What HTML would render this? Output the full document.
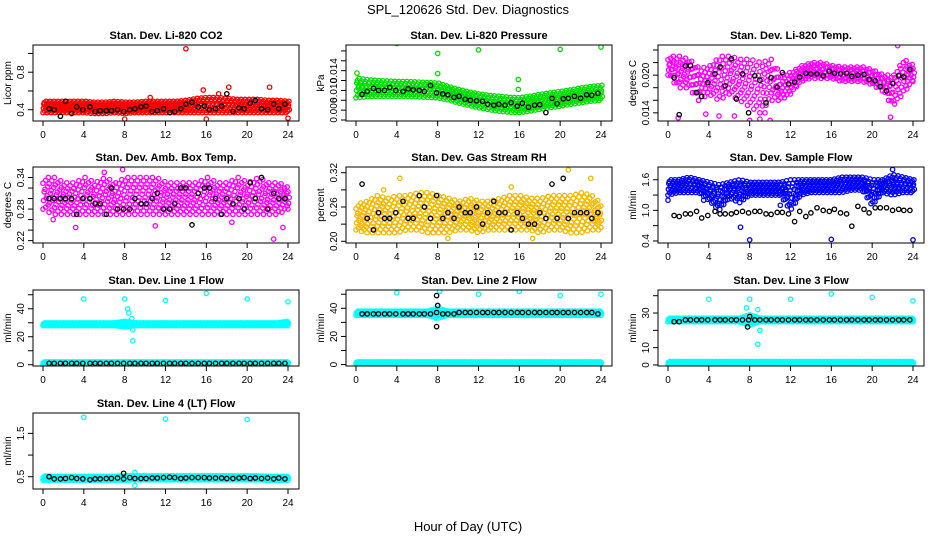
<!DOCTYPE html>
<html><head><meta charset="utf-8"><style>
html,body{margin:0;padding:0;background:#fff;}
svg{display:block;font-family:"Liberation Sans",Arial,sans-serif;}
</style></head><body>
<svg id="chart" width="936" height="540" viewBox="0 0 936 540">
<text x="468" y="14" text-anchor="middle" font-size="13">SPL_120626  Std. Dev. Diagnostics</text>
<text x="468" y="531" text-anchor="middle" font-size="13">Hour of Day (UTC)</text>
</svg>
<script>
// shared black-series hours
const blackHours=[0.6,1.1,1.7,2.2,2.8,3.3,3.9,4.6,5.1,5.6,6.2,6.7,7.3,7.9,8.5,9.0,9.6,10.1,10.7,11.2,11.8,12.4,12.9,13.5,14.0,14.6,15.2,15.8,16.3,16.9,17.5,18.0,18.6,19.2,19.7,20.3,20.8,21.4,22.0,22.6,23.1,23.7];
const xTicks=[0,4,8,12,16,20,24];

// P1 CO2
const co2Lo=[0.37,0.37,0.37,0.37,0.37,0.36,0.36,0.37,0.36,0.37,0.37,0.37,0.37,0.37,0.37,0.37,0.37,0.37,0.37,0.37,0.37,0.37,0.37,0.37,0.37];
const co2Hi=[0.49,0.49,0.49,0.49,0.49,0.48,0.48,0.49,0.48,0.48,0.49,0.49,0.49,0.49,0.50,0.52,0.53,0.53,0.52,0.51,0.51,0.51,0.50,0.50,0.49];
const co2Black=[0.41,0.40,0.33,0.49,0.36,0.43,0.40,0.43,0.38,0.39,0.39,0.39,0.40,0.38,0.40,0.41,0.43,0.44,0.38,0.39,0.41,0.37,0.38,0.41,0.46,0.48,0.43,0.44,0.40,0.41,0.44,0.57,0.38,0.42,0.41,0.47,0.50,0.41,0.40,0.46,0.41,0.46];
const co2OutX=[14,15.7,18.2,22.2,8,16,24,17.2,10.5];
const co2OutY=[1.05,0.61,0.64,0.64,0.30,0.30,0.31,0.57,0.53];
// P2 Pressure
const prLo=[0.0085,0.0087,0.0088,0.0088,0.0088,0.0088,0.0087,0.0086,0.0085,0.0081,0.0075,0.0070,0.0065,0.0061,0.0058,0.0056,0.0055,0.0058,0.0062,0.0065,0.0068,0.0072,0.0075,0.0078,0.0080];
const prHi=[0.0125,0.0122,0.0120,0.0119,0.0118,0.0118,0.0117,0.0116,0.0115,0.0108,0.0102,0.0097,0.0093,0.0090,0.0088,0.0086,0.0085,0.0088,0.0092,0.0095,0.0098,0.0101,0.0105,0.0108,0.0110];
const prBlack=[0.0092,0.0098,0.0104,0.0100,0.0100,0.0106,0.0100,0.0098,0.0103,0.0101,0.0100,0.0098,0.0110,0.0095,0.0093,0.0091,0.0086,0.0088,0.0082,0.0080,0.0079,0.0078,0.0072,0.0070,0.0072,0.0070,0.0075,0.0068,0.0074,0.0066,0.0070,0.0071,0.0055,0.0084,0.0073,0.0083,0.0084,0.0088,0.0084,0.0091,0.0090,0.0094];
const prOutX=[0.1,4,8,12,20,24,15.9,15.9,8];
const prOutY=[0.0135,0.0195,0.0175,0.0182,0.0183,0.0188,0.0122,0.0102,0.0134];
// P3 Li-820 Temp
const tLo=[0.020,0.018,0.018,0.016,0.017,0.016,0.017,0.016,0.015,0.014,0.016,0.016,0.017,0.019,0.0195,0.0195,0.0195,0.019,0.019,0.019,0.0185,0.0175,0.015,0.017,0.019];
const tHi=[0.023,0.023,0.0225,0.021,0.0215,0.023,0.023,0.0225,0.0225,0.022,0.0225,0.020,0.0205,0.0215,0.022,0.022,0.0215,0.0213,0.0213,0.0213,0.0208,0.020,0.020,0.0225,0.0215];
const tBlack=[0.0196,0.0137,0.0215,0.0215,0.0172,0.0166,0.0188,0.0202,0.0213,0.0183,0.0226,0.0162,0.0202,0.0140,0.0199,0.0192,0.0156,0.0196,0.0181,0.0204,0.0186,0.0189,0.0197,0.0203,0.0202,0.0202,0.0199,0.0206,0.0203,0.0202,0.0203,0.0198,0.0200,0.0201,0.0193,0.0191,0.0182,0.0175,0.0187,0.0199,0.0197,0.0209];
const tOutX=[6.5,8,10,22.5,1,21.8,9,9.5,3.7,5];
const tOutY=[0.0135,0.0128,0.0128,0.0247,0.0132,0.0133,0.0130,0.0140,0.0138,0.0135];
// P4 Amb Box Temp
const abLo=[0.28,0.27,0.27,0.27,0.27,0.27,0.27,0.27,0.27,0.27,0.27,0.27,0.27,0.27,0.27,0.27,0.27,0.27,0.27,0.27,0.27,0.27,0.27,0.27,0.28];
const abHi=[0.34,0.34,0.33,0.33,0.34,0.33,0.34,0.33,0.34,0.34,0.34,0.34,0.33,0.33,0.33,0.33,0.34,0.33,0.33,0.34,0.33,0.34,0.33,0.33,0.32];
const abBlack=[0.30,0.30,0.30,0.30,0.30,0.27,0.30,0.30,0.29,0.29,0.27,0.32,0.28,0.28,0.28,0.30,0.29,0.29,0.30,0.31,0.28,0.28,0.29,0.32,0.32,0.25,0.31,0.32,0.32,0.30,0.27,0.30,0.29,0.30,0.28,0.33,0.30,0.34,0.28,0.31,0.30,0.30];
const abOutX=[22.6,3.2,6,7.8,11,23.5,1,18.5];
const abOutY=[0.223,0.245,0.350,0.355,0.248,0.245,0.26,0.255];
// P5 Gas Stream RH
const rhLo=[0.22,0.215,0.215,0.215,0.215,0.22,0.22,0.215,0.215,0.215,0.22,0.22,0.215,0.22,0.22,0.22,0.22,0.22,0.215,0.22,0.22,0.215,0.215,0.22,0.22];
const rhHi=[0.265,0.27,0.28,0.275,0.28,0.28,0.285,0.285,0.28,0.275,0.27,0.275,0.27,0.27,0.275,0.28,0.28,0.275,0.275,0.28,0.28,0.28,0.285,0.28,0.265];
const rhBlack=[0.30,0.24,0.22,0.25,0.24,0.24,0.25,0.27,0.24,0.24,0.28,0.26,0.24,0.28,0.24,0.25,0.24,0.26,0.25,0.25,0.26,0.23,0.25,0.27,0.25,0.25,0.22,0.25,0.24,0.23,0.23,0.25,0.24,0.30,0.24,0.31,0.24,0.25,0.25,0.25,0.24,0.25];
const rhOutX=[4.3,20.8,23,17.3,9,15.2,2.7];
const rhOutY=[0.31,0.325,0.31,0.205,0.205,0.295,0.29];
// P6 Sample Flow
const sfLo=[1.3,1.35,1.35,1.35,1.2,1.0,1.25,1.15,1.3,1.3,1.3,1.3,1.0,1.3,1.35,1.35,1.35,1.35,1.4,1.4,1.1,1.35,1.3,1.35,1.35];
const sfHi=[1.6,1.6,1.65,1.6,1.55,1.5,1.55,1.6,1.55,1.55,1.55,1.55,1.6,1.6,1.6,1.6,1.6,1.65,1.65,1.65,1.6,1.6,1.7,1.65,1.6];
const sfBlack=[0.90,0.88,0.93,0.93,0.98,0.85,0.90,0.98,0.93,0.93,0.93,0.96,0.98,0.95,0.98,0.98,0.93,0.92,0.96,0.96,0.93,0.78,0.98,0.88,0.95,1.05,1.0,0.98,1.02,0.95,0.93,0.69,1.08,1.02,0.95,1.05,1.05,1.05,1.0,1.02,1.0,1.0];
const sfOutX=[8,16,24,7.1,22,0,3.5,11];
const sfOutY=[0.42,0.43,0.42,0.67,1.8,1.2,1.2,1.1];
// P7 Line 1
const l1Lo=[28,28,28,28,28,28,28,28,27,28,28,28,28,28,28,28,28,28,28,28,28,28,28,28,28];
const l1Hi=[30,30,30,30,30,30,30,30,31,30,30,30,30,30,30,30,30,30,30,30,30,30,30,30,31];
const l1LowLo=[0.5,0.5,0.5,0.5,0.5,0.5,0.5,0.5,0.5,0.5,0.5,0.5,0.5,0.5,0.5,0.5,0.5,0.5,0.5,0.5,0.5,0.5,0.5,0.5,0.5];
const l1LowHi=[2,2,2,2,2,2,2,2,2,2,2,2,2,2,2,2,2,2,2,2,2,2,2,2,2];
const l1Black=[1,1,1,1,1,1,1,1,1,1,1,1,1,1,1,1,1,1,1,1,1,1,1,1,1,1,1,1,1,1,1,1,1,1,1,1,1,1,1,1,1,1];
const l1OutX=[4,8,12,16,20,24,8.3,8.4,8.7,8.8,8.8];
const l1OutY=[47,47,46,51,47,45,40,37,33,25,17];
// P8 Line 2
const l2Lo=[35,35,35,35,35,35,35,35,33,35,35,35,35,35,35,35,35,35,35,35,35,35,35,35,35];
const l2Hi=[38,38,38,38,38,38,38,38,40,38,38,38,38,38,38,38,38,38,38,38,38,38,38,38,38];
const l2Black=[36,36,36,36,36,36,36,36,36,36,36,36,36,37,36,36,36,37,37,37,37,37,37,37,37,37,37,37,37,37,37,37,37,37,37,37,37,37,37,37,37,36];
const l2OutX=[4,8.2,12,16,20,24,7.8];
const l2OutY=[51,52,50,52,49,50,33];
const l2BOutX=[7.9,7.9,8];
const l2BOutY=[27,49,42];
// P9 Line 3
const l3Lo=[25,25,25,25,25,25,25,25,23,25,25,25,25,25,25,25,25,25,25,25,25,25,25,25,25];
const l3Hi=[27,27,27,27,27,27,27,27,29,27,27,27,27,27,27,27,27,27,27,27,27,27,27,27,27];
const l3Black=[25,25,26,26,26,26,26,26,26,26,26,26,26,26,26,26,26,26,26,26,26,26,26,26,26,26,26,26,26,26,26,26,26,26,26,26,26,26,26,26,26,26];
const l3OutX=[4,8,12,16,20,24,7.7,8.8,9,8.8];
const l3OutY=[38,38,38,41,39,37,33,32,20,12];
const l3BOutX=[7.8,8];
const l3BOutY=[22,28];
// P10 Line 4
const l4Lo=[0.42,0.42,0.42,0.42,0.42,0.42,0.42,0.42,0.42,0.43,0.43,0.43,0.43,0.43,0.43,0.43,0.43,0.43,0.43,0.43,0.43,0.43,0.42,0.42,0.42];
const l4Hi=[0.52,0.51,0.51,0.51,0.51,0.51,0.51,0.51,0.52,0.52,0.52,0.52,0.52,0.52,0.52,0.52,0.52,0.52,0.52,0.52,0.52,0.52,0.51,0.51,0.51];
const l4Black=[0.50,0.45,0.45,0.46,0.48,0.46,0.45,0.43,0.45,0.45,0.46,0.46,0.47,0.45,0.48,0.46,0.46,0.46,0.47,0.47,0.48,0.49,0.48,0.46,0.47,0.48,0.48,0.48,0.47,0.47,0.47,0.46,0.46,0.47,0.48,0.46,0.47,0.46,0.47,0.45,0.47,0.45];
const l4OutX=[4,12,20,9,9];
const l4OutY=[1.87,1.83,1.82,0.60,0.30];
const l4BOutX=[7.9];
const l4BOutY=[0.58];

const svg=document.getElementById('chart');
const NS='http://www.w3.org/2000/svg';
function mk(tag,attrs,parent){const e=document.createElementNS(NS,tag);for(const k in attrs)e.setAttribute(k,attrs[k]);(parent||svg).appendChild(e);return e;}

const colL=[33,346,658], rowT=[45,167,290,413], W=266, H=76;

function panel(o){
  const g=mk('g',{});
  
  
  const L=colL[o.c], T=rowT[o.r];
  const xs=h=>L+10+h*(245/24);
  const ys=v=>T+H-(v-o.ylim[0])/(o.ylim[1]-o.ylim[0])*H;
  const clip='clip'+o.name;
  const cp=mk('clipPath',{id:clip},g); mk('rect',{x:L,y:T,width:W,height:H},cp);
  const pts=mk('g',{'clip-path':'url(#'+clip+')'},g);
  
  
  function dot(h,v,col){mk('circle',{cx:xs(h).toFixed(1),cy:ys(v).toFixed(1),r:2.2,fill:'none',stroke:col,'stroke-width':1.3},pts);}
  function band(lo,hi,col,rows,step){
    const n=Math.round(24/step);
    for(let i=0;i<=n;i++){const h=i*step;const k=Math.min(23,Math.floor(h));const f=h-k;
      const a=lo[k]+(lo[k+1]-lo[k])*f, b=hi[k]+(hi[k+1]-hi[k])*f;
      for(let j=0;j<rows;j++){const t=rows==1?0.5:((j+((i*7)%3)/3)/(rows-0.34));dot(h+((i+j)%3)*step*0.3,a+(b-a)*Math.min(1,t),col);}
    }
  }
  o.bands.forEach(b=>band(b[0],b[1],o.color,b[2],b[3]));
  if(o.outX)o.outX.forEach((h,i)=>dot(h,o.outY[i],o.color));
  o.black.forEach((v,i)=>dot(blackHours[i],v,'#000'));
  if(o.bOutX)o.bOutX.forEach((h,i)=>dot(h,o.bOutY[i],'#000'));
  const box=mk('rect',{x:L,y:T,width:W,height:H,fill:'none',stroke:'#000','stroke-width':1},g);
  
  
  mk('line',{x1:xs(0),x2:xs(24),y1:T+H,y2:T+H,stroke:'#000'},g);
  xTicks.forEach(h=>{mk('line',{x1:xs(h),x2:xs(h),y1:T+H,y2:T+H+5,stroke:'#000'},g);
    const t=mk('text',{x:xs(h),y:T+H+17,'text-anchor':'middle','font-size':10},g);t.textContent=h;
    
    });
  o.yTicks.forEach(v=>{const y=ys(v);mk('line',{x1:L,x2:L-5,y1:y,y2:y,stroke:'#000'},g);});
  o.yLabels.forEach(v=>{const y=ys(v);const t=mk('text',{x:L-9,y:y,'text-anchor':'middle','font-size':10,transform:'rotate(-90 '+(L-9)+' '+y+')'},g);t.textContent=o.fmt?o.fmt(v):v;
    
    });
  const yt=mk('text',{x:L-22,y:T+H/2,'text-anchor':'middle','font-size':10,transform:'rotate(-90 '+(L-22)+' '+(T+H/2)+')'},g);yt.textContent=o.ylab;
  
  
  const tt=mk('text',{x:L+W/2,y:T-6,'text-anchor':'middle','font-size':11,'font-weight':'bold'},g);tt.textContent=o.title;
  
  
}
const f3=v=>v.toFixed(3), f2=v=>v.toFixed(2), f1=v=>v.toFixed(1);
panel({name:'co2-panel',c:0,r:0,title:'Stan. Dev. Li-820 CO2',ylab:'Licor ppm',ylim:[0.28,1.09],yTicks:[0.4,0.6,0.8,1.0],yLabels:[0.4,0.8],fmt:f1,color:'#ff0000',bands:[[co2Lo,co2Hi,3,0.13]],black:co2Black,outX:co2OutX,outY:co2OutY});
panel({name:'pressure-panel',c:1,r:0,title:'Stan. Dev. Li-820 Pressure',ylab:'kPa',ylim:[0.0038,0.0192],yTicks:[0.004,0.006,0.008,0.010,0.012,0.014,0.016,0.018],yLabels:[0.006,0.010,0.014],fmt:f3,color:'#00e000',bands:[[prLo,prHi,3,0.13]],black:prBlack,outX:prOutX,outY:prOutY});
panel({name:'temp-panel',c:2,r:0,title:'Stan. Dev. Li-820 Temp.',ylab:'degrees C',ylim:[0.0127,0.0248],yTicks:[0.014,0.016,0.018,0.020,0.022,0.024],yLabels:[0.014,0.020],fmt:f3,color:'#ff00ff',bands:[[tLo,tHi,4,0.2]],black:tBlack,outX:tOutX,outY:tOutY});
panel({name:'amb-box-panel',c:0,r:1,title:'Stan. Dev. Amb. Box Temp.',ylab:'degrees C',ylim:[0.2155,0.36],yTicks:[0.22,0.24,0.26,0.28,0.30,0.32,0.34],yLabels:[0.22,0.28,0.34],fmt:f2,color:'#ff00ff',bands:[[abLo,abHi,4,0.2]],black:abBlack,outX:abOutX,outY:abOutY});
panel({name:'rh-panel',c:1,r:1,title:'Stan. Dev. Gas Stream RH',ylab:'percent',ylim:[0.197,0.33],yTicks:[0.20,0.23,0.26,0.29,0.32],yLabels:[0.20,0.26,0.32],fmt:f2,color:'#f5b800',bands:[[rhLo,rhHi,4,0.18]],black:rhBlack,outX:rhOutX,outY:rhOutY});
panel({name:'sample-flow-panel',c:2,r:1,title:'Stan. Dev. Sample Flow',ylab:'ml/min',ylim:[0.36,1.85],yTicks:[0.4,0.7,1.0,1.3,1.6],yLabels:[0.4,1.0,1.6],fmt:f1,color:'#0000ff',bands:[[sfLo,sfHi,3,0.13]],black:sfBlack,outX:sfOutX,outY:sfOutY});
panel({name:'line1-flow-panel',c:0,r:2,title:'Stan. Dev. Line 1 Flow',ylab:'ml/min',ylim:[-0.9,53.4],yTicks:[0,10,20,30,40,50],yLabels:[0,20,40],color:'#00ffff',bands:[[l1Lo,l1Hi,2,0.1],[l1LowLo,l1LowHi,2,0.1]],black:l1Black,outX:l1OutX,outY:l1OutY});
panel({name:'line2-flow-panel',c:1,r:2,title:'Stan. Dev. Line 2 Flow',ylab:'ml/min',ylim:[-1,53],yTicks:[0,10,20,30,40,50],yLabels:[0,20,40],color:'#00ffff',bands:[[l2Lo,l2Hi,2,0.1],[l1LowLo,l1LowHi,2,0.1]],black:l2Black,outX:l2OutX,outY:l2OutY,bOutX:l2BOutX,bOutY:l2BOutY});
panel({name:'line3-flow-panel',c:2,r:2,title:'Stan. Dev. Line 3 Flow',ylab:'ml/min',ylim:[-0.6,43.3],yTicks:[0,10,20,30,40],yLabels:[0,10,30],color:'#00ffff',bands:[[l3Lo,l3Hi,2,0.1],[l1LowLo,l1LowHi,2,0.1]],black:l3Black,outX:l3OutX,outY:l3OutY,bOutX:l3BOutX,bOutY:l3BOutY});
panel({name:'line4-flow-panel',c:0,r:3,title:'Stan. Dev. Line 4 (LT) Flow',ylab:'ml/min',ylim:[0.217,1.97],yTicks:[0.5,1.0,1.5],yLabels:[0.5,1.5],fmt:f1,color:'#00ffff',bands:[[l4Lo,l4Hi,2,0.1]],black:l4Black,outX:l4OutX,outY:l4OutY,bOutX:l4BOutX,bOutY:l4BOutY});
</script>
</body></html>
